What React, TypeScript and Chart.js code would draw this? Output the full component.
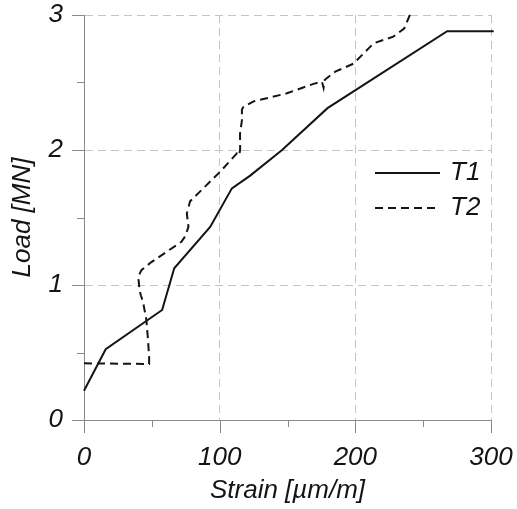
import React, { useEffect, useRef } from "react";
import { Chart, registerables } from "chart.js";

Chart.register(...registerables);

// T1 (solid)
const t1Strain = [0, 16, 57.6, 66.5, 93, 109, 122.5, 146, 179.5, 267.7, 302];
const t1Load = [0.217, 0.524, 0.815, 1.124, 1.43, 1.716, 1.81, 2.0, 2.31, 2.88, 2.88];

// T2 (dashed)
const t2Strain = [0, 48, 48, 47.2, 46, 43.5, 42, 41, 40, 42.3, 49.7, 71.8, 74.5, 77, 75.8, 78.2, 100.4, 112.7, 114.5, 115.1, 115, 116.4, 116.4, 117.6, 125, 149.6, 169.2, 175.4, 176.6, 177.5, 185.2, 198.7, 213.5, 228, 236, 240.6];
const t2Load = [0.42, 0.415, 0.47, 0.59, 0.74, 0.876, 0.92, 0.96, 1.06, 1.11, 1.17, 1.32, 1.36, 1.43, 1.53, 1.62, 1.84, 1.975, 1.96, 2.01, 2.12, 2.22, 2.30, 2.32, 2.36, 2.42, 2.49, 2.506, 2.46, 2.52, 2.58, 2.64, 2.79, 2.84, 2.90, 3.01];

const seriesNames = ["T1", "T2"];
const xTitle = "Strain [\u00b5m/m]";
const yTitle = "Load [MN]";
const xMajorTicks = [0, 100, 200, 300];
const yMajorTicks = [0, 1, 2, 3];

const FONT = "'Liberation Sans', Arial, sans-serif";
const GRID = "#c4c4c4";
const AXIS = "#8a8a8a";
const INK = "#141414";

const toPts = (xs: number[], ys: number[]) => xs.map((x, i) => ({ x, y: ys[i] }));

const zeroPad = (s: any) => {
  s.paddingTop = 0;
  s.paddingBottom = 0;
  s.paddingLeft = 0;
  s.paddingRight = 0;
};

const tickMarksPlugin = {
  id: "tickMarks",
  afterDraw(chart: any) {
    const ctx = chart.ctx;
    const xs = chart.scales.x;
    const ys = chart.scales.y;
    ctx.save();
    ctx.strokeStyle = AXIS;
    ctx.lineWidth = 1;
    ctx.beginPath();
    for (let v = 0; v <= 300; v += 50) {
      const px = Math.round(xs.getPixelForValue(v)) + 0.5;
      const len = xMajorTicks.includes(v) ? 13 : 7;
      ctx.moveTo(px, xs.top);
      ctx.lineTo(px, xs.top + len);
    }
    for (let v = 0; v <= 3; v += 0.5) {
      const py = Math.round(ys.getPixelForValue(v)) + 0.5;
      const len = yMajorTicks.includes(v) ? 12 : 7;
      ctx.moveTo(ys.right, py);
      ctx.lineTo(ys.right - len, py);
    }
    ctx.stroke();
    ctx.restore();
  },
};

const legendPlugin = {
  id: "insideLegend",
  afterDraw(chart: any) {
    const ctx = chart.ctx;
    const a = chart.chartArea;
    const x0 = a.left + 291;
    const x1 = a.left + 356;
    const rows = [a.top + 158, a.top + 193];
    ctx.save();
    ctx.strokeStyle = INK;
    ctx.lineWidth = 2;
    rows.forEach((y, i) => {
      ctx.setLineDash(i === 0 ? [] : [8, 5]);
      ctx.beginPath();
      ctx.moveTo(x0, y);
      ctx.lineTo(x1, y);
      ctx.stroke();
    });
    ctx.setLineDash([]);
    ctx.fillStyle = INK;
    ctx.font = `italic 26px ${FONT}`;
    ctx.textBaseline = "middle";
    ctx.textAlign = "left";
    rows.forEach((y, i) => ctx.fillText(seriesNames[i], x1 + 10, y));
    ctx.restore();
  },
};

export default function App() {
  const ref = useRef<HTMLCanvasElement | null>(null);
  useEffect(() => {
    if (!ref.current) return;
    const chart = new Chart(ref.current, {
      type: "line",
      data: {
        datasets: [
          {
            label: seriesNames[0],
            data: toPts(t1Strain, t1Load),
            borderColor: INK,
            borderWidth: 2,
            pointRadius: 0,
            tension: 0,
            clip: false as any,
          },
          {
            label: seriesNames[1],
            data: toPts(t2Strain, t2Load),
            borderColor: INK,
            borderWidth: 2,
            borderDash: [8, 5],
            pointRadius: 0,
            tension: 0,
            clip: false as any,
          },
        ],
      },
      options: {
        animation: false,
        responsive: true,
        maintainAspectRatio: false,
        layout: { padding: { top: 15, right: 26, left: 0, bottom: 0 } },
        plugins: { legend: { display: false }, tooltip: { enabled: false } },
        scales: {
          x: {
            type: "linear",
            min: 0,
            max: 300,
            afterFit: (s: any) => {
              s.height = 89;
              zeroPad(s);
            },
            ticks: {
              stepSize: 50,
              autoSkip: false,
              maxRotation: 0,
              padding: 22,
              color: INK,
              font: { family: FONT, style: "italic", size: 26 },
              callback: (v: any) => (xMajorTicks.includes(Number(v)) ? String(v) : ""),
            },
            grid: {
              drawTicks: false,
              lineWidth: 1,
              color: (c: any) =>
                c.tick && c.tick.value !== 0 && xMajorTicks.includes(c.tick.value) ? GRID : "rgba(0,0,0,0)",
            },
            border: { display: true, color: AXIS, width: 1, dash: [8, 5] },
            title: {
              display: true,
              text: xTitle,
              color: INK,
              font: { family: FONT, style: "italic", size: 26 },
              padding: { top: 0, bottom: 3 },
            },
          },
          y: {
            type: "linear",
            min: 0,
            max: 3,
            afterFit: (s: any) => {
              s.width = 84;
              zeroPad(s);
            },
            ticks: {
              stepSize: 0.5,
              autoSkip: false,
              padding: 21,
              color: INK,
              font: { family: FONT, style: "italic", size: 26 },
              callback: (v: any) => (yMajorTicks.includes(Number(v)) ? String(v) : ""),
            },
            grid: {
              drawTicks: false,
              lineWidth: 1,
              color: (c: any) =>
                c.tick && c.tick.value !== 0 && yMajorTicks.includes(c.tick.value) ? GRID : "rgba(0,0,0,0)",
            },
            border: { display: true, color: AXIS, width: 1, dash: [8, 5] },
            title: {
              display: true,
              text: yTitle,
              color: INK,
              font: { family: FONT, style: "italic", size: 26 },
              padding: { top: 7, bottom: 0 },
            },
          },
        },
      },
      plugins: [tickMarksPlugin, legendPlugin],
    });
    return () => chart.destroy();
  }, []);

  return (
    <div style={{ position: "absolute", left: 0, top: 0, width: 517, height: 509, background: "#fff" }}>
      <canvas ref={ref} />
    </div>
  );
}
